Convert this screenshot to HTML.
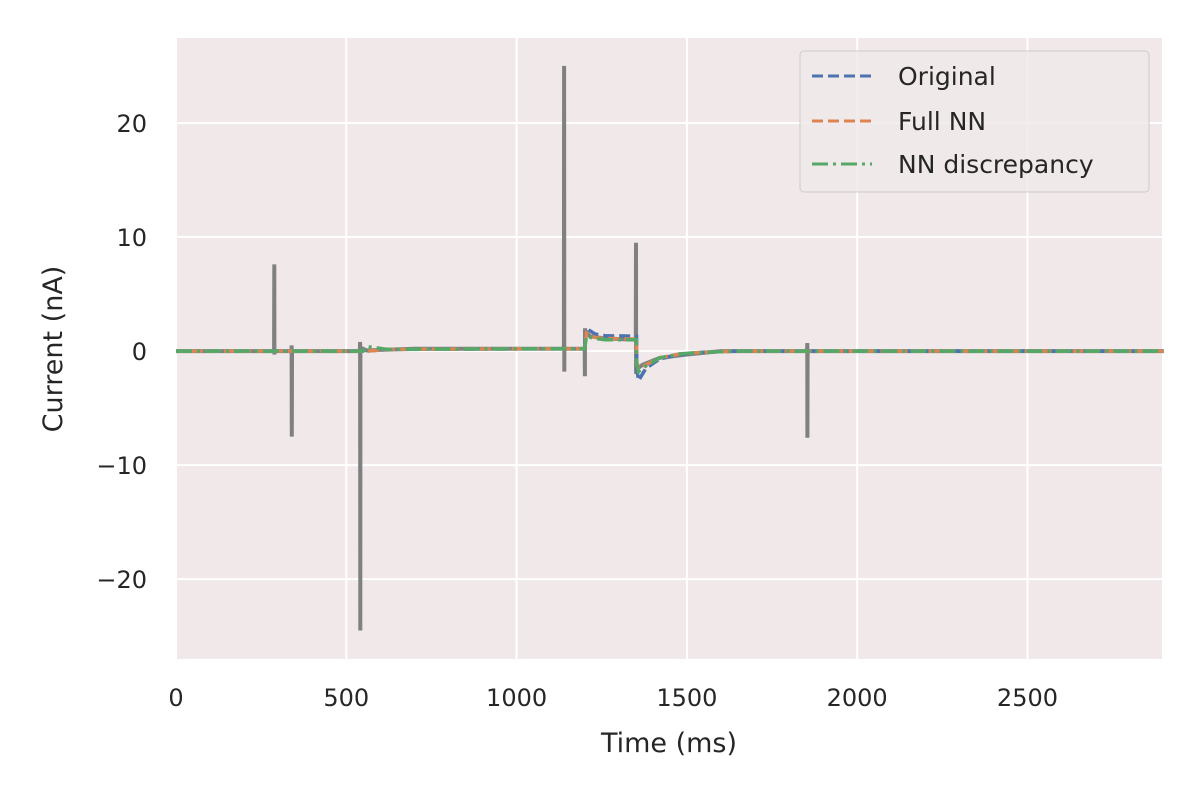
<!DOCTYPE html>
<html><head><meta charset="utf-8"><style>
body{margin:0;background:#fff;font-family:"Liberation Sans","DejaVu Sans",sans-serif}
</style></head><body>
<svg width="1200" height="800" xmlns="http://www.w3.org/2000/svg" font-family="DejaVu Sans, Liberation Sans, sans-serif">
<rect x="176" y="38" width="986" height="621" fill="#f0e8e9"/>
<g id="grid"></g>
<g id="series"></g>
<g id="ticks" font-size="24" fill="#262626"></g>
<text x="669" y="752" text-anchor="middle" font-size="27" fill="#262626">Time (ms)</text>
<text transform="translate(62,349) rotate(-90)" text-anchor="middle" font-size="27" fill="#262626">Current (nA)</text>
<g>
<rect x="800" y="51" width="349" height="141" rx="4" fill="#f0e8e9" fill-opacity="0.8" stroke="#cccccc"/>
<line x1="812" y1="76" x2="872" y2="76" stroke="#4c72b0" stroke-width="3" stroke-dasharray="11,5"/>
<text x="898" y="85" font-size="25" fill="#262626">Original</text>
<line x1="812" y1="121" x2="872" y2="121" stroke="#dd8452" stroke-width="3" stroke-dasharray="11,5"/>
<text x="898" y="130" font-size="25" fill="#262626">Full NN</text>
<line x1="812" y1="164" x2="872" y2="164" stroke="#55a868" stroke-width="3" stroke-dasharray="16,5,3,5"/>
<text x="898" y="173" font-size="25" fill="#262626">NN discrepancy</text>
</g>
</svg>
<script>
const xTicks=[0,500,1000,1500,2000,2500];
const yTicks=[-20,-10,0,10,20];
const yTickLabels=["\u221220","\u221210","0","10","20"];
const grayT=[0,288,288.5,289,289.5,339,339.5,340,340.5,540,540.5,541,541.5,560,600,700,1000,1139,1139.5,1140,1140.5,1200,1200.5,1201,1201.5,1215,1260,1350,1350.5,1351,1351.5,1370,1420,1500,1600,1853,1853.5,1854,1854.5,2900];
const grayV=[0,0,7.6,-0.3,0,0,0.5,-7.5,0,0,0.8,-24.5,0.3,0.05,0.1,0.2,0.2,0.2,25,-1.8,0.2,0.2,-2.2,2,1.8,1.3,1.1,1.0,9.5,-2,-1.6,-1.2,-0.6,-0.3,0,0,0.7,-7.6,0,0];
const origT=[0,560,620,1000,1195,1200,1205,1230,1260,1352,1353,1358,1380,1420,1480,1550,1650,2900];
const origV=[0,0,0.15,0.2,0.2,0.2,2.0,1.5,1.35,1.3,-1.5,-2.6,-1.5,-0.7,-0.3,-0.1,0,0];
const nnT=[0,560,620,1000,1195,1200,1205,1230,1260,1352,1353,1358,1380,1420,1480,1550,1650,2900];
const nnV=[0,0,0.15,0.2,0.2,0.2,1.6,1.2,1.1,1.05,-1.0,-1.6,-1.2,-0.6,-0.25,-0.1,0,0];
const discT=[0,550,560,620,1000,1195,1200,1205,1230,1260,1352,1353,1358,1380,1420,1480,1550,1650,2900];
const discV=[0,0,0.4,0.15,0.2,0.2,0.2,1.3,1.1,1.0,1.0,-1.2,-1.8,-1.3,-0.6,-0.25,-0.1,0,0];
const X0=176,X1=1162,XMAX=2895,Y0=659,Y1=38,YMIN=-27.0,YMAX=27.45;
const xs=v=>X0+(v/XMAX)*(X1-X0);
const ys=v=>Y0-(v-YMIN)/(YMAX-YMIN)*(Y0-Y1);
const NS="http://www.w3.org/2000/svg";
const grid=document.getElementById('grid'),ticks=document.getElementById('ticks'),ser=document.getElementById('series');
function mk(tag,attrs,parent){const e=document.createElementNS(NS,tag);for(const k in attrs)e.setAttribute(k,attrs[k]);parent.appendChild(e);return e;}
xTicks.forEach(t=>{
 const l=mk('line',{x1:xs(t),x2:xs(t),y1:Y1,y2:Y0,stroke:'#fff','stroke-width':2},grid);
 
 
 const tx=mk('text',{x:xs(t),y:Y0+47,'text-anchor':'middle'},ticks);tx.textContent=t;
 
 
});
yTicks.forEach((t,i)=>{
 const l=mk('line',{x1:X0,x2:X1,y1:ys(t),y2:ys(t),stroke:'#fff','stroke-width':2},grid);
 
 
 const tx=mk('text',{x:X0-29,y:ys(t)+9,'text-anchor':'end'},ticks);tx.textContent=yTickLabels[i];
 
 
});
function path(T,V){return T.map((t,i)=>(i?'L':'M')+xs(t).toFixed(1)+','+ys(V[i]).toFixed(1)).join('');}
const g=mk('path',{d:path(grayT,grayV),fill:'none',stroke:'#808080','stroke-width':4},ser);


const o=mk('path',{d:path(origT,origV),fill:'none',stroke:'#4c72b0','stroke-width':3.5,'stroke-dasharray':'11,5'},ser);


const n=mk('path',{d:path(nnT,nnV),fill:'none',stroke:'#dd8452','stroke-width':3.5,'stroke-dasharray':'11,5'},ser);


const d=mk('path',{d:path(discT,discV),fill:'none',stroke:'#55a868','stroke-width':3.5,'stroke-dasharray':'16,5,3,5'},ser);


</script>
</body></html>
